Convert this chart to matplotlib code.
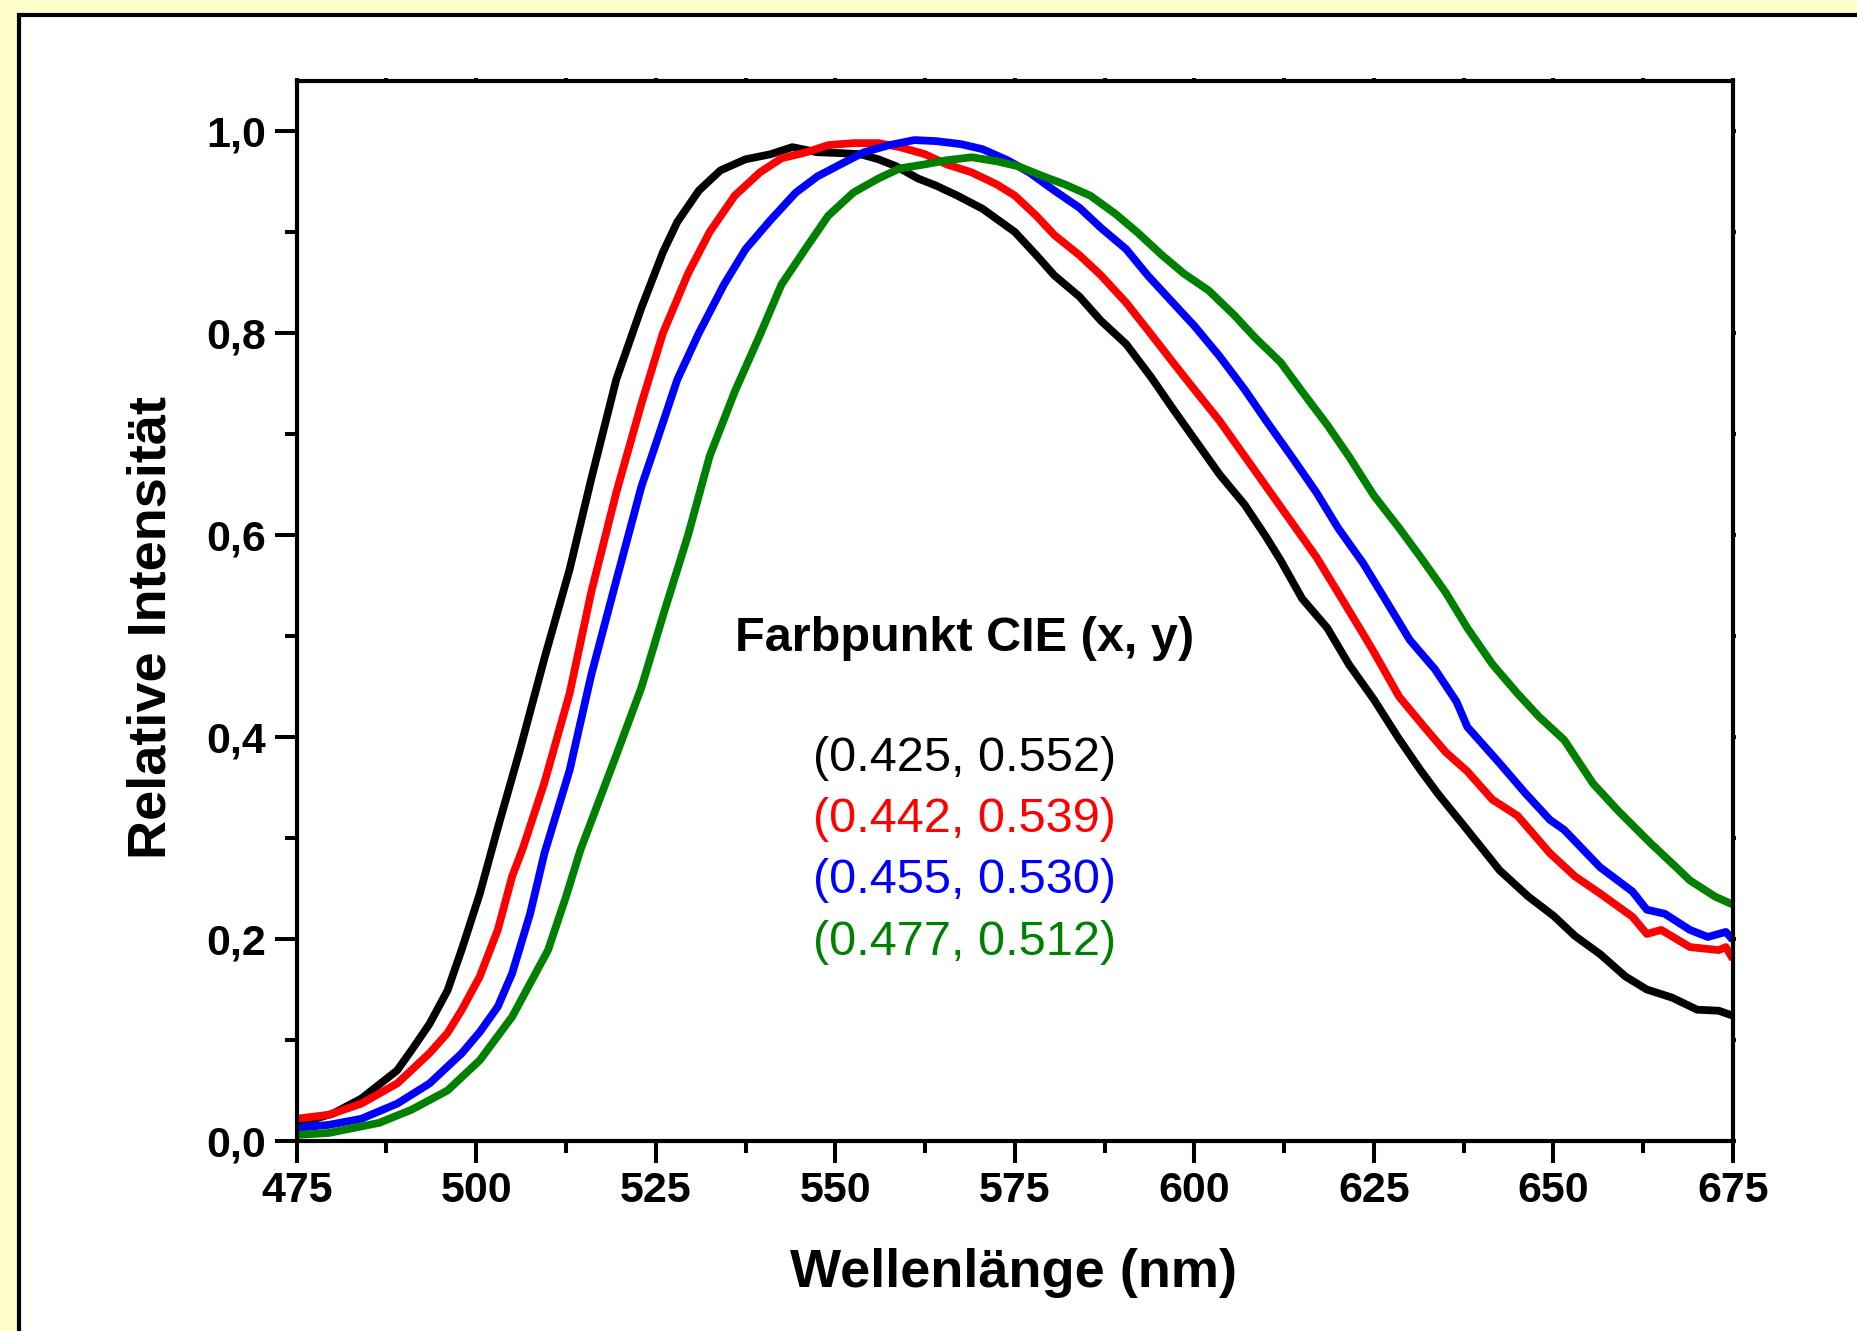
import numpy as np
import matplotlib
matplotlib.use("Agg")
import matplotlib.pyplot as plt
from matplotlib.patches import Rectangle
from matplotlib.ticker import MultipleLocator

plt.rcParams['font.family'] = ['Liberation Sans', 'DejaVu Sans']

# spectra (wavelength in nm, relative intensity)
wl_black = [475, 480, 484, 489, 491, 493.5, 496, 498, 500.5, 503, 506, 509.5, 513, 516, 519.5,
            523, 526, 528, 531, 534, 537.5, 541, 544, 547.5, 551, 553.5, 556, 558.5, 561.5, 564,
            567, 570.5, 575, 578, 580.5, 584, 587, 590.5, 594, 597, 600, 603.5, 607, 610, 612,
            615, 618.5, 621.5, 625, 628.5, 631.5, 634, 638, 642.5, 646.5, 650, 653, 656.5, 660,
            663, 666.5, 670, 673, 675]
int_black = [0.017, 0.027, 0.042, 0.070, 0.090, 0.116, 0.149, 0.190, 0.245, 0.310, 0.385, 0.478,
             0.566, 0.655, 0.754, 0.825, 0.880, 0.910, 0.941, 0.961, 0.972, 0.977, 0.984, 0.979,
             0.978, 0.977, 0.972, 0.965, 0.953, 0.946, 0.936, 0.923, 0.900, 0.877, 0.857, 0.836,
             0.812, 0.789, 0.756, 0.725, 0.695, 0.660, 0.630, 0.598, 0.575, 0.537, 0.508, 0.472,
             0.437, 0.398, 0.367, 0.343, 0.308, 0.268, 0.242, 0.223, 0.203, 0.185, 0.163, 0.150,
             0.142, 0.130, 0.129, 0.124]

wl_red = [475, 479.5, 484, 489, 493.5, 496, 498, 500.5, 503, 505, 506.5, 509.5, 513, 516, 519.5,
          523, 526, 529.5, 532.5, 536, 539.5, 542.5, 546, 549, 552.5, 556, 559, 562.5, 565.5, 569,
          572.5, 575, 578, 580.5, 584, 587, 590.5, 593.5, 597, 600, 603.5, 607, 610, 613.5, 617,
          620, 623.5, 625, 628.5, 632, 635, 638, 641.5, 645, 649.5, 653, 656.5, 661, 663, 665,
          669, 673, 674, 675]
int_red = [0.022, 0.026, 0.037, 0.057, 0.087, 0.107, 0.130, 0.163, 0.209, 0.262, 0.290, 0.355,
           0.443, 0.543, 0.642, 0.730, 0.800, 0.859, 0.900, 0.936, 0.959, 0.973, 0.979, 0.986,
           0.988, 0.988, 0.984, 0.977, 0.967, 0.959, 0.947, 0.936, 0.916, 0.897, 0.877, 0.857,
           0.830, 0.803, 0.771, 0.744, 0.713, 0.678, 0.648, 0.613, 0.578, 0.543, 0.502, 0.484,
           0.440, 0.410, 0.385, 0.366, 0.338, 0.322, 0.285, 0.262, 0.245, 0.222, 0.205, 0.209,
           0.192, 0.189, 0.192, 0.180]

wl_blue = [475, 479.5, 484, 489, 493.5, 498, 500.5, 503, 505, 507.5, 509.5, 513, 516, 519.5, 523,
           525, 528, 531, 534.5, 537.5, 541, 544.5, 547.5, 551, 554, 557.5, 561, 564, 567.5,
           570.5, 574, 577, 580.5, 584, 587, 590.5, 593.5, 597, 600, 603.5, 607, 610, 613.5, 617,
           620, 623.5, 626.5, 630, 633.5, 636.5, 638, 642.5, 646, 649.5, 651.5, 656.5, 661, 663,
           665.5, 669, 671.5, 674, 675]
int_blue = [0.013, 0.016, 0.022, 0.037, 0.057, 0.087, 0.108, 0.133, 0.166, 0.225, 0.285, 0.367,
            0.461, 0.555, 0.648, 0.690, 0.754, 0.800, 0.848, 0.883, 0.912, 0.939, 0.955, 0.968,
            0.979, 0.986, 0.991, 0.990, 0.987, 0.982, 0.971, 0.959, 0.941, 0.924, 0.904, 0.883,
            0.857, 0.830, 0.807, 0.777, 0.744, 0.713, 0.678, 0.642, 0.607, 0.572, 0.537, 0.496,
            0.467, 0.435, 0.410, 0.374, 0.345, 0.318, 0.308, 0.271, 0.247, 0.229, 0.225, 0.209,
            0.202, 0.207, 0.199]

wl_green = [475, 479.5, 486.5, 491, 496, 500.5, 505, 510, 512.5, 514.5, 519.5, 523, 526, 529.5,
            532.5, 536, 539.5, 542.5, 546, 549, 552.5, 556, 559, 562.5, 565.5, 569, 572.5, 575.5,
            579, 582, 585.5, 589, 592, 595.5, 598.5, 602, 605.5, 608.5, 612, 615, 618.5, 621.5,
            625, 628.5, 631.5, 635, 638, 641.5, 645, 648, 651.5, 655.5, 659, 663.5, 666.5, 669,
            672.5, 675]
int_green = [0.006, 0.008, 0.018, 0.031, 0.050, 0.080, 0.123, 0.189, 0.242, 0.288, 0.382, 0.449,
             0.520, 0.600, 0.678, 0.742, 0.798, 0.848, 0.885, 0.916, 0.939, 0.953, 0.963, 0.967,
             0.971, 0.974, 0.970, 0.965, 0.955, 0.947, 0.936, 0.918, 0.900, 0.877, 0.859, 0.842,
             0.818, 0.795, 0.771, 0.742, 0.709, 0.678, 0.639, 0.607, 0.578, 0.543, 0.508, 0.472,
             0.443, 0.420, 0.397, 0.354, 0.327, 0.295, 0.275, 0.258, 0.242, 0.234]

cie_labels = ['(0.425, 0.552)', '(0.442, 0.539)', '(0.455, 0.530)', '(0.477, 0.512)']
colors = ['black', 'red', 'blue', 'green']

xticks = [475, 500, 525, 550, 575, 600, 625, 650, 675]
yticks = [0.0, 0.2, 0.4, 0.6, 0.8, 1.0]
ytick_labels = ['0,0', '0,2', '0,4', '0,6', '0,8', '1,0']

W, H = 1857, 1331
fig = plt.figure(figsize=(W / 100, H / 100), dpi=100, facecolor='#FFFFCC')

# white panel with black border (runs off the right and bottom edge)
panel = Rectangle((19 / W, -0.1), 1.5, 1.1 - 15.5 / H, transform=fig.transFigure,
                  facecolor='white', edgecolor='black', lw=3, zorder=0)
fig.add_artist(panel)

ax = fig.add_axes([296.7 / W, 1 - 1141 / H, (1733 - 296.7) / W, (1141 - 80.5) / H])
ax.set_zorder(2)

for wl, val, c in zip([wl_black, wl_red, wl_blue, wl_green],
                      [int_black, int_red, int_blue, int_green], colors):
    ax.plot(wl, val, color=c, lw=5.6, solid_joinstyle='round', solid_capstyle='butt')

ax.set_xlim(475, 675)
ax.set_ylim(0, 1.05)
ax.set_xticks(xticks)
ax.set_xticklabels([str(t) for t in xticks])
ax.set_yticks(yticks)
ax.set_yticklabels(ytick_labels)
ax.xaxis.set_minor_locator(MultipleLocator(12.5))
ax.yaxis.set_minor_locator(MultipleLocator(0.1))

for s in ax.spines.values():
    s.set_linewidth(3)
ax.tick_params(which='major', direction='out', length=15.8, width=2.9, labelsize=31, pad=6)
ax.tick_params(which='minor', direction='out', length=8.6, width=2.9)
ax.tick_params(which='both', right=True, top=True)
for lbl in ax.get_xticklabels() + ax.get_yticklabels():
    lbl.set_fontweight('bold')
# tiny nubs on the right/top spines
for t in ax.yaxis.get_major_ticks() + ax.yaxis.get_minor_ticks():
    t.tick2line.set_markersize(2)
for t in ax.xaxis.get_major_ticks() + ax.xaxis.get_minor_ticks():
    t.tick2line.set_markersize(2)

ax.text(568, 0.498, 'Farbpunkt CIE (x, y)', ha='center', va='center',
        fontsize=35, fontweight='bold')
for lab, c, y in zip(cie_labels, colors, [0.379, 0.318, 0.258, 0.197]):
    ax.text(568, y, lab, ha='center', va='center', fontsize=35, color=c)

fig.text(1014 / W, 1 - 1273 / H, 'Wellenlänge (nm)', ha='center', va='center',
         fontsize=39, fontweight='bold')
fig.text(152 / W, 1 - 628 / H, 'Relative Intensität', ha='center', va='center',
         rotation=90, fontsize=39, fontweight='bold')

fig.savefig('out.png', dpi=100, facecolor=fig.get_facecolor())
